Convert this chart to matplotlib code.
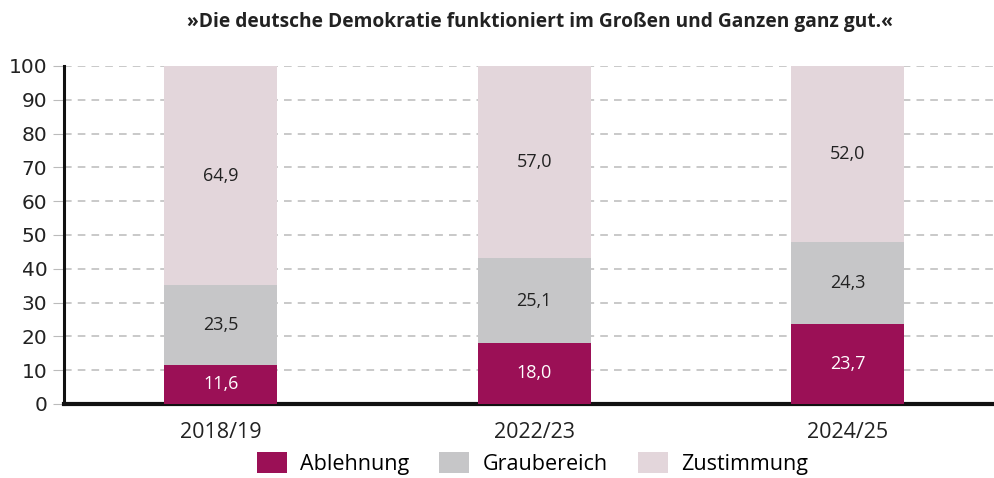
# Gestapeltes Balkendiagramm: Zustimmung zur Demokratie
import numpy as np
import matplotlib.pyplot as plt

plt.rcParams['font.family'] = ['Open Sans', 'DejaVu Sans']

# Daten
jahre = ["2018/19", "2022/23", "2024/25"]
ablehnung = [11.6, 18.0, 23.7]
graubereich = [23.5, 25.1, 24.3]
zustimmung = [64.9, 57.0, 52.0]

farben = ["#9B1056", "#C6C6C8", "#E3D6DB"]
namen = ["Ablehnung", "Graubereich", "Zustimmung"]
text_farben = ["white", "#222222", "#222222"]

fig = plt.figure(figsize=(9.95, 4.78), dpi=100)
ax = fig.add_axes([0.0643, 0.155, 0.9357, 0.707])

x = np.arange(len(jahre))
breite = 0.36
unten = np.zeros(len(jahre))
for werte, farbe, name, tf in zip([ablehnung, graubereich, zustimmung], farben, namen, text_farben):
    ax.bar(x, werte, breite, bottom=unten, color=farbe, label=name, zorder=3)
    for xi, u, w in zip(x, unten, werte):
        ax.text(xi, u + w / 2, ("%.1f" % w).replace(".", ","), ha="center", va="center",
                color=tf, fontsize=13, zorder=4)
    unten = unten + np.array(werte)

ax.set_xlim(-0.5, 2.47)
ax.set_ylim(0, 100)
ax.set_yticks(range(0, 101, 10))
ax.set_xticks(x)
ax.set_xticklabels(jahre)
ax.tick_params(axis="y", length=8, color="#BBBBBB", labelsize=14.5, pad=4, labelcolor="#222222")
for lab in ax.get_yticklabels():
    lab.set_family("DejaVu Sans")
ax.tick_params(axis="x", length=0, labelsize=15.5, pad=13, labelcolor="#222222")
ax.grid(axis="y", color="#BBBBBB", linestyle=(0, (5, 4)), linewidth=1.1, zorder=0)
for s in ["top", "right"]:
    ax.spines[s].set_visible(False)
ax.spines["left"].set_linewidth(2.2)
ax.spines["bottom"].set_linewidth(3)
ax.spines["left"].set_color("#111111")
ax.spines["bottom"].set_color("#111111")

fig.text(0.543, 0.955, "»Die deutsche Demokratie funktioniert im Großen und Ganzen ganz gut.«",
         ha="center", va="center", fontsize=13.8, fontweight="bold", color="#222222")

fig.legend(loc="center", bbox_to_anchor=(0.535, 0.031), ncol=3, frameon=False,
           fontsize=15.5, handlelength=1.4, handleheight=1.1, columnspacing=1.4, handletextpad=0.6)

plt.savefig("out.png", dpi=100)
